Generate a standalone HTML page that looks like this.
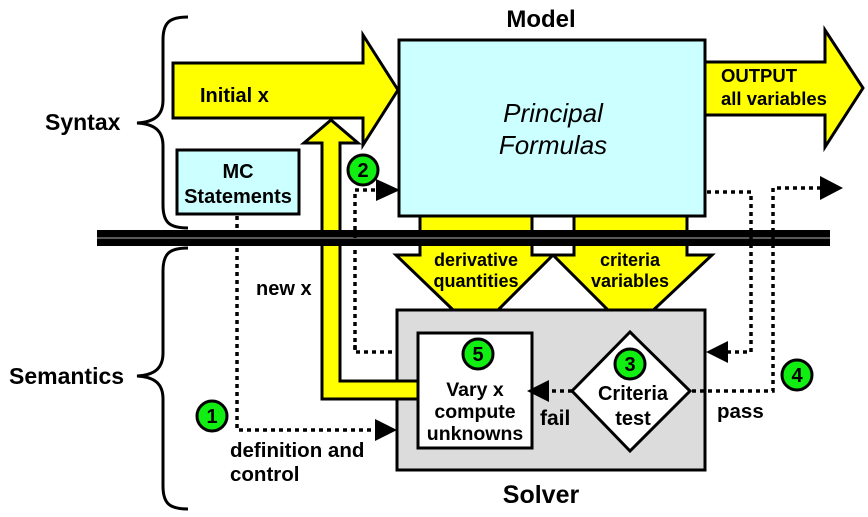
<!DOCTYPE html>
<html><head><meta charset="utf-8"><style>
html,body{margin:0;padding:0;background:#fff;}
svg{display:block;font-family:"Liberation Sans",Arial,sans-serif;}
.b{font-weight:bold;font-size:18px;fill:#000;}
</style></head><body>
<svg width="868" height="517" viewBox="0 0 868 517" xmlns="http://www.w3.org/2000/svg">
<!-- braces -->
<path d="M188,17 C170,17 163,22 163,40 L163,100 C163,115 155,122 137,123 C155,124 163,131 163,146 L163,205 C163,223 170,228 188,228" fill="none" stroke="#000" stroke-width="3"/>
<path d="M188,248 C170,248 163,253 163,271 L163,353 C163,368 155,375 137,376 C155,377 163,384 163,399 L163,486 C163,504 170,509 188,509" fill="none" stroke="#000" stroke-width="3"/>
<text class="b" x="45" y="130" style="font-size:23px">Syntax</text>
<text class="b" x="9" y="384" style="font-size:23px">Semantics</text>

<!-- down arrows -->
<polygon points="420,214 532,214 532,255 553,255 476,332 396,255 420,255" fill="#ff0" stroke="#000" stroke-width="3"/>
<polygon points="574,214 687,214 687,255 712,255 630,332 553,255 574,255" fill="#ff0" stroke="#000" stroke-width="3"/>
<rect x="534" y="216" width="39" height="37" fill="#fff"/>
<polyline points="532,214 532,255 574,255 574,214" fill="none" stroke="#000" stroke-width="3"/>
<text class="b" x="476" y="266" text-anchor="middle">derivative</text>
<text class="b" x="476" y="287" text-anchor="middle">quantities</text>
<text class="b" x="630" y="266" text-anchor="middle">criteria</text>
<text class="b" x="630" y="287" text-anchor="middle">variables</text>

<!-- Initial x arrow -->
<polygon points="173,63 363,63 363,35 398,90 363,145 363,118 173,118" fill="#ff0" stroke="#000" stroke-width="3"/>
<text class="b" x="200" y="102" style="font-size:20px">Initial x</text>

<!-- Output arrow -->
<polygon points="705,62 825,62 825,30 863,88 825,147 825,115 705,115" fill="#ff0" stroke="#000" stroke-width="3"/>
<text class="b" x="721" y="82" style="font-size:18.5px">OUTPUT</text>
<text class="b" x="721" y="105" style="font-size:18.5px">all variables</text>

<!-- Model box -->
<rect x="399" y="40" width="306" height="176" fill="#ccffff" stroke="#000" stroke-width="3"/>
<text x="553" y="122" text-anchor="middle" font-style="italic" font-size="26">Principal</text>
<text x="553" y="154" text-anchor="middle" font-style="italic" font-size="26">Formulas</text>
<text class="b" x="541" y="27" text-anchor="middle" style="font-size:24px">Model</text>

<!-- MC Statements -->
<rect x="177" y="150" width="122" height="64" fill="#ccffff" stroke="#000" stroke-width="3"/>
<text class="b" x="238" y="178" text-anchor="middle" style="font-size:20px">MC</text>
<text class="b" x="238" y="203" text-anchor="middle" style="font-size:20px">Statements</text>

<!-- Solver -->
<rect x="397" y="310" width="308" height="160" fill="#dcdcdc" stroke="#000" stroke-width="3"/>
<text class="b" x="541" y="503" text-anchor="middle" style="font-size:25px">Solver</text>

<!-- new x yellow arrow -->
<polygon points="322,390 322,143 304,143 331,120 358,143 340,143 340,381 418,381 418,399 322,399" fill="#ff0" stroke="#000" stroke-width="3"/>
<text class="b" x="256" y="295" style="font-size:20px">new x</text>

<!-- bus -->
<rect x="97" y="230" width="733" height="16" fill="#000"/>
<line x1="97" y1="238" x2="830" y2="238" stroke="#777" stroke-width="1.5"/>

<!-- inner box -->
<rect x="418" y="333" width="114" height="115" fill="#fff" stroke="#000" stroke-width="3"/>
<text class="b" x="475" y="396" text-anchor="middle" style="font-size:19.5px">Vary x</text>
<text class="b" x="475" y="418" text-anchor="middle" style="font-size:19.5px">compute</text>
<text class="b" x="475" y="440" text-anchor="middle" style="font-size:19.5px">unknowns</text>

<!-- diamond -->
<polygon points="630,332 690,391 630,451 572,391" fill="#fff" stroke="#000" stroke-width="3"/>
<text class="b" x="633" y="400" text-anchor="middle" style="font-size:20px">Criteria</text>
<text class="b" x="633" y="425" text-anchor="middle" style="font-size:20px">test</text>

<!-- dotted lines -->
<g fill="none" stroke="#000" stroke-width="3.5" stroke-dasharray="4,4">
<polyline points="237,216 237,430 380,430"/>
<polyline points="355,345 355,352 395,352"/>
<polyline points="355,350 355,190 378,190"/>
<polyline points="572,391 548,391"/>
<polyline points="692,391 773,391 773,188 820,188"/>
<polyline points="707,192 751,192 751,352 727,352"/>
</g>
<polygon points="397,430 375,419 375,441" fill="#000"/>
<polygon points="400,190 376,179 376,201" fill="#000"/>
<polygon points="527,391 549,380 549,402" fill="#000"/>
<polygon points="843,188 820,176 820,200" fill="#000"/>
<polygon points="706,352 728,341 728,363" fill="#000"/>

<text class="b" x="230" y="457" style="font-size:20.5px">definition and</text>
<text class="b" x="230" y="481" style="font-size:20.5px">control</text>
<text class="b" x="540" y="425" style="font-size:21px">fail</text>
<text class="b" x="717" y="418" style="font-size:20.5px">pass</text>

<!-- circles -->
<g stroke="#000" stroke-width="3" fill="#11ee11">
<circle cx="363" cy="170" r="15"/>
<circle cx="212" cy="416" r="15"/>
<circle cx="630" cy="364" r="15"/>
<circle cx="478" cy="354" r="15"/>
<circle cx="797" cy="375" r="15"/>
</g>
<text x="363" y="177" text-anchor="middle" class="b" style="font-size:20px">2</text>
<text x="212" y="423" text-anchor="middle" class="b" style="font-size:20px">1</text>
<text x="630" y="371" text-anchor="middle" class="b" style="font-size:20px">3</text>
<text x="478" y="361" text-anchor="middle" class="b" style="font-size:20px">5</text>
<text x="797" y="382" text-anchor="middle" class="b" style="font-size:20px">4</text>
</svg>
</body></html>
